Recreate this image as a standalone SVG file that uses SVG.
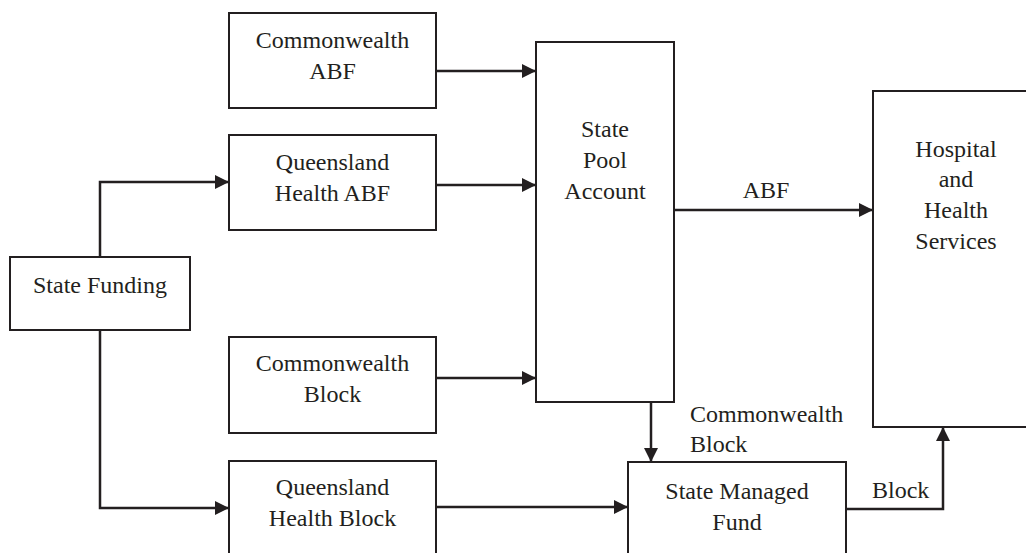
<svg xmlns="http://www.w3.org/2000/svg" width="1026" height="553" viewBox="0 0 1026 553">
<style>
.box{fill:#fff;stroke:#231f20;stroke-width:2}
.ln{fill:none;stroke:#231f20;stroke-width:2.5;marker-end:url(#ah)}
.t{font-family:'Liberation Serif',serif;font-size:24px;fill:#231f20}
.c{text-anchor:middle}
</style>
<defs>
<marker id="ah" viewBox="0 0 14 14" refX="14" refY="7" markerWidth="14" markerHeight="14" markerUnits="userSpaceOnUse" orient="auto">
<path d="M0,0 L14,7 L0,14 Z" fill="#231f20"/>
</marker>
</defs>
<rect width="1026" height="553" fill="#fff"/>
<g id="connectors" class="t" font-family="Liberation Serif, serif">
<path class="ln" d="M100,257 V182 H229"/>
<path class="ln" d="M100,330 V508 H229"/>
<path class="ln" d="M436,71 H536"/>
<path class="ln" d="M436,185 H536"/>
<path class="ln" d="M436,378 H536"/>
<path class="ln" d="M674,210 H873"/>
<path class="ln" d="M651,402 V462"/>
<path class="ln" d="M436,507 H628"/>
<path class="ln" d="M846,509 H943 V427"/>
<text class="c" x="766" y="198">ABF</text>
<text x="690" y="422">Commonwealth</text>
<text x="690" y="452">Block</text>
<text x="872" y="498">Block</text>
</g>
<g id="commonwealth-abf" class="t" font-family="Liberation Serif, serif">
<rect class="box" x="229" y="13" width="207" height="95"/>
<text class="c" x="332.5" y="48">Commonwealth</text>
<text class="c" x="332.5" y="79">ABF</text>
</g>
<g id="queensland-health-abf" class="t" font-family="Liberation Serif, serif">
<rect class="box" x="229" y="135" width="207" height="95"/>
<text class="c" x="332.5" y="170">Queensland</text>
<text class="c" x="332.5" y="201">Health ABF</text>
</g>
<g id="state-funding" class="t" font-family="Liberation Serif, serif">
<rect class="box" x="10" y="257" width="180" height="73"/>
<text class="c" x="100" y="293">State Funding</text>
</g>
<g id="commonwealth-block" class="t" font-family="Liberation Serif, serif">
<rect class="box" x="229" y="337" width="207" height="96"/>
<text class="c" x="332.5" y="371">Commonwealth</text>
<text class="c" x="332.5" y="402">Block</text>
</g>
<g id="queensland-health-block" class="t" font-family="Liberation Serif, serif">
<rect class="box" x="229" y="461" width="207" height="110"/>
<text class="c" x="332.5" y="495">Queensland</text>
<text class="c" x="332.5" y="526">Health Block</text>
</g>
<g id="state-pool-account" class="t" font-family="Liberation Serif, serif">
<rect class="box" x="536" y="42" width="138" height="360"/>
<text class="c" x="605" y="137">State</text>
<text class="c" x="605" y="168">Pool</text>
<text class="c" x="605" y="199">Account</text>
</g>
<g id="hospital-health-services" class="t" font-family="Liberation Serif, serif">
<rect class="box" x="873" y="91" width="170" height="336"/>
<text class="c" x="956" y="157">Hospital</text>
<text class="c" x="956" y="187">and</text>
<text class="c" x="956" y="218">Health</text>
<text class="c" x="956" y="249">Services</text>
</g>
<g id="state-managed-fund" class="t" font-family="Liberation Serif, serif">
<rect class="box" x="628" y="462" width="218" height="110"/>
<text class="c" x="737" y="499">State Managed</text>
<text class="c" x="737" y="530">Fund</text>
</g>
</svg>
